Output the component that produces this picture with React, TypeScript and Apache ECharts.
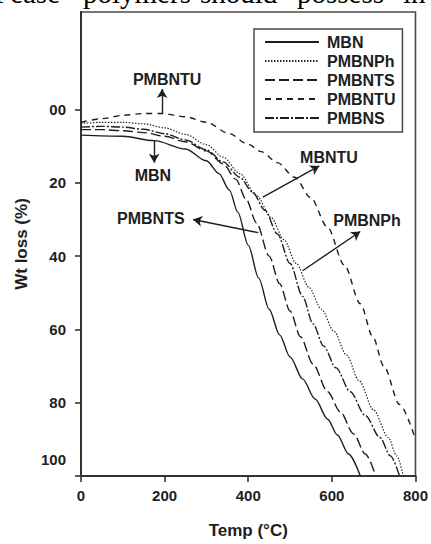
import React, { useEffect, useRef } from "react";
import * as echarts from "echarts";

// ---- data ----
const seriesNames = ["MBN", "PMBNPh", "PMBNTS", "PMBNTU", "PMBNS"];

const mbnTemp = [0, 100, 175, 250, 300, 330, 355, 375, 400, 425, 450, 475, 500, 530, 560, 590, 613, 640, 668];
const mbnLoss = [7, 7.3, 8.5, 10.8, 14, 17.5, 22, 28, 37, 46, 54.5, 61.5, 67.5, 73.5, 79, 84.5, 88.8, 94, 100];

const pmbnphTemp = [0, 50, 100, 150, 200, 250, 300, 340, 380, 420, 455, 485, 515, 545, 575, 605, 635, 665, 700, 735, 755, 771];
const pmbnphLoss = [3.8, 3.5, 3.5, 3.9, 5, 6.8, 9.6, 13, 17.5, 23.5, 29.5, 35.5, 42, 48.5, 54.5, 60.5, 67, 74, 82, 89.5, 94.5, 100];

const pmbntsTemp = [0, 50, 100, 150, 200, 250, 300, 340, 370, 395, 420, 450, 475, 500, 525, 555, 590, 620, 652, 680, 705];
const pmbntsLoss = [5.5, 5.5, 5.8, 6.3, 7.3, 8.8, 11.3, 14.8, 19, 24.5, 31, 40, 47.5, 55, 62, 69.5, 77, 82.5, 88.5, 94, 100];

const pmbntuTemp = [0, 50, 100, 150, 194, 250, 300, 353, 400, 431, 470, 511, 549, 589, 630, 668, 698, 724, 762, 800];
const pmbntuLoss = [3.5, 2.5, 1.6, 1.1, 1.1, 2, 3.5, 6.5, 9.5, 11.5, 14.5, 18.5, 24, 32, 42.5, 53, 62, 70, 80.5, 90];

const pmbnsTemp = [0, 50, 100, 150, 200, 250, 300, 340, 380, 410, 440, 470, 500, 530, 555, 580, 610, 644, 680, 715, 740, 762];
const pmbnsLoss = [4.8, 4.6, 4.8, 5.4, 6.6, 8.3, 11, 14.3, 18.5, 22.5, 27.5, 34, 42, 51, 58.5, 64.5, 70.5, 77, 83.5, 89.5, 94.5, 100];

const xTickValues = [0, 200, 400, 600, 800];
const xTickLabels = ["0", "200", "400", "600", "800"];
const yTickValues = [0, 20, 40, 60, 80, 100];
const yTickLabels = ["00", "20", "40", "60", "80", "100"];

const annotationTexts = ["PMBNTU", "MBN", "PMBNTS", "MBNTU", "PMBNPh"];
const annotationAt = [[206, -8.1], [172, 18], [167, 29.8], [593, 13], [684, 30.3]];
const arrowFrom = [[194, 1.1], [175, 8.6], [424, 33.6], [435, 23.9], [530, 44]];
const arrowTo = [[194, -5.6], [175, 14.5], [268, 30], [570, 15.4], [668, 33.3]];

const headerWords = ["Pease", "polymers", "should", "possess", "in"];

// ---- styles ----
const SANS = "'Liberation Sans', Arial, sans-serif";
const SERIF = "'Liberation Serif', 'Times New Roman', serif";
const INK = "#1e1e1e";
const dashes: Record<string, any> = {
  MBN: "solid",
  PMBNPh: [1.4, 1.6],
  PMBNTS: [10, 4],
  PMBNTU: [6, 5],
  PMBNS: [9, 2, 2, 2],
};
const headerX = [-6, 83, 200, 297, 403];

function zip(t: number[], v: number[]) {
  return t.map((x, i) => [x, v[i]]);
}

export default function App() {
  const ref = useRef<HTMLDivElement>(null);
  useEffect(() => {
    if (!ref.current) return;
    const chart = echarts.init(ref.current, undefined, { renderer: "svg" });
    const dataMap: Record<string, number[][]> = {
      MBN: zip(mbnTemp, mbnLoss),
      PMBNPh: zip(pmbnphTemp, pmbnphLoss),
      PMBNTS: zip(pmbntsTemp, pmbntsLoss),
      PMBNTU: zip(pmbntuTemp, pmbntuLoss),
      PMBNS: zip(pmbnsTemp, pmbnsLoss),
    };
    const series: any[] = seriesNames.map((name) => ({
      name,
      type: "line",
      data: dataMap[name],
      smooth: 0.3,
      smoothMonotone: "x",
      symbol: "none",
      showSymbol: false,
      silent: true,
      lineStyle: { color: INK, width: name === "PMBNPh" ? 1.2 : 1.4, type: dashes[name] },
      itemStyle: { color: INK },
    }));
    series[0].markLine = {
      silent: true,
      symbol: ["none", "arrow"],
      symbolSize: [8, 9],
      lineStyle: { color: INK, width: 1.4, type: "solid" },
      label: { show: false },
      data: arrowFrom.map((f, i) => [{ coord: f }, { coord: arrowTo[i] }]),
    };
    series[0].markPoint = {
      silent: true,
      symbol: "circle",
      symbolSize: 1,
      itemStyle: { color: "rgba(0,0,0,0)" },
      label: {
        show: true,
        position: "inside",
        formatter: (p: any) => p.name,
        color: INK,
        fontFamily: SANS,
        fontWeight: "bold",
        fontSize: 16,
      },
      data: annotationTexts.map((t, i) => ({ name: t, coord: annotationAt[i] })),
    };

    chart.setOption({
      animation: false,
      backgroundColor: "#fff",
      grid: {
        left: 81,
        right: 11.5,
        top: 12,
        bottom: 61,
        show: true,
        borderColor: "#4a4a4a",
        borderWidth: 1.6,
      },
      legend: {
        data: seriesNames,
        orient: "vertical",
        left: 254,
        top: 29,
        padding: [5, 7, 6, 10],
        itemWidth: 54,
        itemHeight: 14,
        itemGap: 3,
        selectedMode: false,
        borderColor: "#4a4a4a",
        borderWidth: 1.5,
        itemStyle: { opacity: 0 },
        textStyle: { color: INK, fontFamily: SANS, fontWeight: "bold", fontSize: 16, lineHeight: 14, padding: [0, 0, 0, 3] },
      },
      xAxis: {
        type: "value",
        min: 0,
        max: 800,
        interval: 200,
        name: "Temp (°C)",
        nameLocation: "middle",
        nameGap: 46,
        nameTextStyle: { color: INK, fontFamily: SANS, fontWeight: "bold", fontSize: 17 },
        axisLine: { show: true, onZero: false, lineStyle: { color: "#333", width: 2 } },
        axisTick: { show: true, inside: false, length: 6, lineStyle: { color: "#333", width: 1.6 } },
        splitLine: { show: false },
        axisLabel: {
          margin: 12,
          color: INK,
          fontFamily: SANS,
          fontWeight: "bold",
          fontSize: 15,
          formatter: (v: number) => xTickLabels[xTickValues.indexOf(v)] ?? "",
        },
      },
      yAxis: {
        type: "value",
        inverse: true,
        min: -26.6,
        max: 100,
        name: "Wt loss (%)",
        nameLocation: "middle",
        nameGap: 50,
        nameTextStyle: { color: INK, fontFamily: SANS, fontWeight: "bold", fontSize: 17 },
        axisLine: { show: true, onZero: false, lineStyle: { color: "#333", width: 2 } },
        axisTick: { show: true, inside: false, length: 6, customValues: yTickValues, lineStyle: { color: "#333", width: 1.6 } },
        splitLine: { show: false },
        axisLabel: {
          customValues: yTickValues,
          margin: 15,
          color: INK,
          fontFamily: SANS,
          fontWeight: "bold",
          fontSize: 15,
          formatter: (v: number) => {
            const s = yTickLabels[yTickValues.indexOf(v)] ?? "";
            return v === 100 ? `{up|${s}}` : s;
          },
          rich: {
            up: { padding: [0, 0, 33, 0], color: INK, fontFamily: SANS, fontWeight: "bold", fontSize: 15 },
          },
        },
      },
      graphic: headerWords.map((w, i) => ({
        type: "text",
        x: headerX[i],
        y: 7,
        silent: true,
        style: {
          text: w,
          fill: "#000",
          font: `29px ${SERIF}`,
          verticalAlign: "bottom",
          align: "left",
        },
      })),
      series,
    });
    return () => chart.dispose();
  }, []);
  return <div ref={ref} style={{ position: "fixed", left: 0, top: 0, width: 431, height: 544 }} />;
}
